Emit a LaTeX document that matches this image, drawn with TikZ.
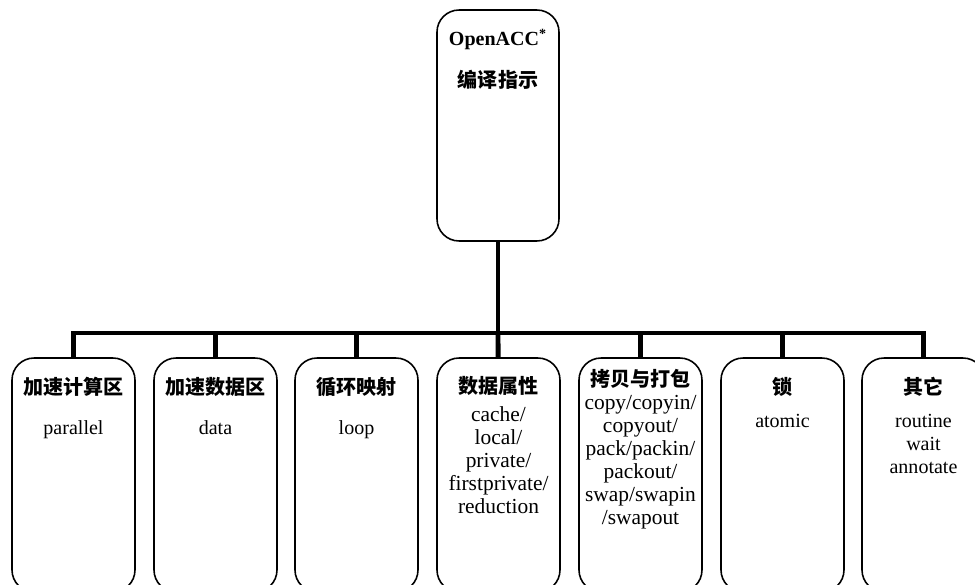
\documentclass[tikz,border=0pt]{standalone}
\usepackage{fontspec}
\setmainfont{Liberation Serif}
\newfontfamily\cjk{Noto Sans CJK SC}
\usepackage{tikz}
\pgfdeclarelayer{edgelayer}
\pgfdeclarelayer{nodelayer}
\pgfsetlayers{edgelayer,nodelayer,main}
\tikzstyle{trunk}=[draw=black, line width=2.8pt]
\tikzstyle{box}=[rectangle, rounded corners=0.44cm, fill=white, draw=black, line width=0.9pt, minimum width=2.46cm, minimum height=4.68cm]
\tikzstyle{rootbox}=[box, minimum width=2.44cm, minimum height=4.62cm]
\tikzstyle{title}=[inner sep=0pt, font=\cjk\bfseries\fontsize{11.4}{13.1}\selectfont]
\tikzstyle{clause}=[inner sep=0pt, anchor=north, align=center, font=\fontsize{11.4}{13.1}\selectfont]
\tikzstyle{longclause}=[clause, font=\fontsize{12.2}{13.1}\selectfont]

\begin{document}
\begin{tikzpicture}[x=0.02cm, y=-0.02cm]
				\useasboundingbox (0, 0) rectangle (975, 585);
				\begin{pgfonlayer}{nodelayer}
					\node [style=rootbox] (0) at (498, 125.5) {};
					\node [style=box] (1) at (73.5, 475) {};
					\node [style=box] (2) at (215.5, 475) {};
					\node [style=box] (3) at (356.5, 475) {};
					\node [style=box] (4) at (498.5, 475) {};
					\node [style=box] (5) at (640.5, 475) {};
					\node [style=box] (6) at (782.5, 475) {};
					\node [style=box] (7) at (923.5, 475) {};
					% labels
					\node [inner sep=0pt, anchor=base, font=\bfseries\fontsize{11.4}{13.1}\selectfont] (r0) at (498, 45) {OpenACC\textsuperscript{*}};
					\node [style=title] (t0) at (498, 80) {编译指示};
					\node [style=title] (t1) at (73.5, 387) {加速计算区};
					\node [style=title] (t2) at (215.5, 387) {加速数据区};
					\node [style=title] (t3) at (356.5, 387) {循环映射};
					\node [style=title] (t4) at (498.5, 386) {数据属性};
					\node [style=title] (t5) at (640.5, 379) {拷贝与打包};
					\node [style=title] (t6) at (782.5, 387) {锁};
					\node [style=title] (t7) at (923.5, 387) {其它};
					\node [style=clause] (c1) at (73.5, 418) {\strut parallel};
					\node [style=clause] (c2) at (215.5, 418) {\strut data};
					\node [style=clause] (c3) at (356.5, 418) {\strut loop};
					\node [style=longclause] (c4) at (498.5, 405) {\strut cache/\\local/\\private/\\firstprivate/\\reduction};
					\node [style=longclause] (c5) at (640.5, 393) {\strut copy/copyin/\\copyout/\\pack/packin/\\packout/\\swap/swapin\\/swapout};
					\node [style=clause] (c6) at (782.5, 411) {\strut atomic};
					\node [style=clause] (c7) at (923.5, 411) {\strut routine\\wait\\annotate};
				\end{pgfonlayer}
				\begin{pgfonlayer}{edgelayer}
					\coordinate (8) at (498, 333);
					\draw [style=trunk] (0) to (8);
					\draw [style=trunk] (1) |- (8);
					\draw [style=trunk] (2) |- (8);
					\draw [style=trunk] (3) |- (8);
					\draw [style=trunk] (4) to (8);
					\draw [style=trunk] (5) |- (8);
					\draw [style=trunk] (6) |- (8);
					\draw [style=trunk] (7) |- (8);
				\end{pgfonlayer}
			\end{tikzpicture}
\end{document}
